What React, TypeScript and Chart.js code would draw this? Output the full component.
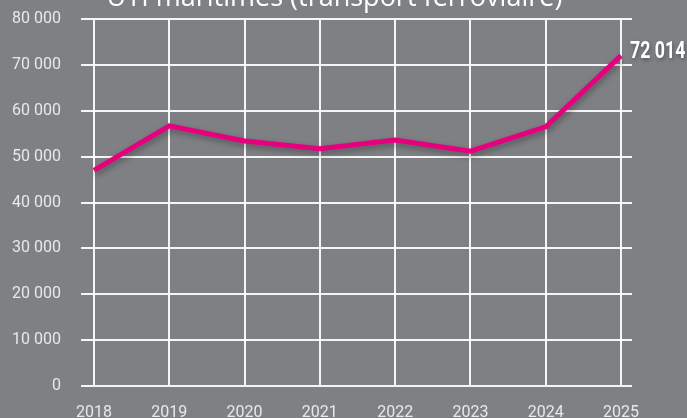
import React, { useEffect, useRef } from "react";
import { Chart, registerables } from "chart.js";

Chart.register(...registerables);

const years = ["2018", "2019", "2020", "2021", "2022", "2023", "2024", "2025"];
const volumes = [47000, 56700, 53400, 51700, 53600, 51200, 56500, 72014];
const yMin = 0;
const yMax = 80000;
const yStep = 10000;
const chartTitle = "UTI maritimes (transport ferroviaire)";
const lastValueLabel = "72 014";

const BG = "#7f8084";
const GRID = "rgba(255,255,255,0.92)";
const TICK_TEXT = "#e8e8e8";
const LINE = "#e6007e";

const fmt = (n: number) => String(n).replace(/\B(?=(\d{3})+(?!\d))/g, " ");

const shadowPlugin = {
  id: "lineShadow",
  beforeDatasetsDraw(chart: any) {
    const ctx = chart.ctx;
    ctx.save();
    ctx.shadowColor = "rgba(0,0,0,0.35)";
    ctx.shadowBlur = 6;
    ctx.shadowOffsetX = 1;
    ctx.shadowOffsetY = 3;
  },
  afterDatasetsDraw(chart: any) {
    chart.ctx.restore();
  },
};

const labelPlugin = {
  id: "lastLabel",
  afterDraw(chart: any) {
    const ctx = chart.ctx;
    const meta = chart.getDatasetMeta(0);
    const pt = meta.data[meta.data.length - 1];
    if (!pt) return;
    ctx.save();
    ctx.translate(pt.x + 9, pt.y - 4);
    ctx.scale(0.74, 1);
    ctx.font = "bold 24px Roboto, sans-serif";
    ctx.fillStyle = "#ffffff";
    ctx.textAlign = "left";
    ctx.textBaseline = "middle";
    ctx.shadowColor = "rgba(0,0,0,0.35)";
    ctx.shadowBlur = 4;
    ctx.shadowOffsetX = 1;
    ctx.shadowOffsetY = 2;
    ctx.fillText(lastValueLabel, 0, 0);
    ctx.restore();

    // title (cut off at the top of the picture)
    ctx.save();
    ctx.font = "27px 'Open Sans', sans-serif";
    ctx.fillStyle = "#ffffff";
    ctx.textAlign = "center";
    ctx.textBaseline = "alphabetic";
    ctx.fillText(chartTitle, chart.width / 2 - 9, 6);
    ctx.restore();
  },
};

export default function App() {
  const ref = useRef<HTMLCanvasElement | null>(null);

  useEffect(() => {
    if (!ref.current) return;
    const tickFont = { family: "Roboto, 'Noto Sans', sans-serif", size: 16 };
    const chart = new Chart(ref.current, {
      type: "line",
      data: {
        labels: years,
        datasets: [
          {
            data: volumes,
            borderColor: LINE,
            borderWidth: 5,
            pointRadius: 0,
            tension: 0,
            fill: false,
          },
        ],
      },
      options: {
        responsive: false,
        animation: false,
        layout: { padding: { top: 19, left: 0, right: 0, bottom: 0 } },
        plugins: { legend: { display: false }, tooltip: { enabled: false }, title: { display: false } },
        scales: {
          x: {
            offset: false,
            grid: { color: GRID, lineWidth: 2, drawTicks: false },
            border: { display: false },
            ticks: { color: TICK_TEXT, font: tickFont, padding: 17, maxRotation: 0 },
            afterFit: (s: any) => {
              s.height = 39;
              s.paddingLeft = 0;
              s.paddingRight = 0;
            },
          },
          y: {
            position: "left",
            min: yMin,
            max: yMax,
            grid: { color: GRID, lineWidth: 2, drawTicks: true, tickLength: 13 },
            border: { display: false },
            ticks: {
              stepSize: yStep,
              color: TICK_TEXT,
              font: tickFont,
              padding: 20,
              callback: (v: any) => fmt(Number(v)),
            },
            afterFit: (s: any) => {
              s.width = 94;
              s.paddingTop = 0;
              s.paddingBottom = 0;
            },
          },
          yR: {
            position: "right",
            min: yMin,
            max: yMax,
            grid: { color: GRID, lineWidth: 2, drawOnChartArea: false, drawTicks: true, tickLength: 11 },
            border: { display: false },
            ticks: { stepSize: yStep, display: false },
            afterFit: (s: any) => {
              s.width = 66;
              s.paddingTop = 0;
              s.paddingBottom = 0;
            },
          },
        },
      },
      plugins: [shadowPlugin, labelPlugin],
    });
    return () => chart.destroy();
  }, []);

  return (
    <div
      style={{
        position: "fixed",
        left: 0,
        top: 0,
        width: 687,
        height: 418,
        overflow: "hidden",
        background: BG,
      }}
    >
      <canvas ref={ref} width={687} height={425} style={{ display: "block" }} />
    </div>
  );
}
